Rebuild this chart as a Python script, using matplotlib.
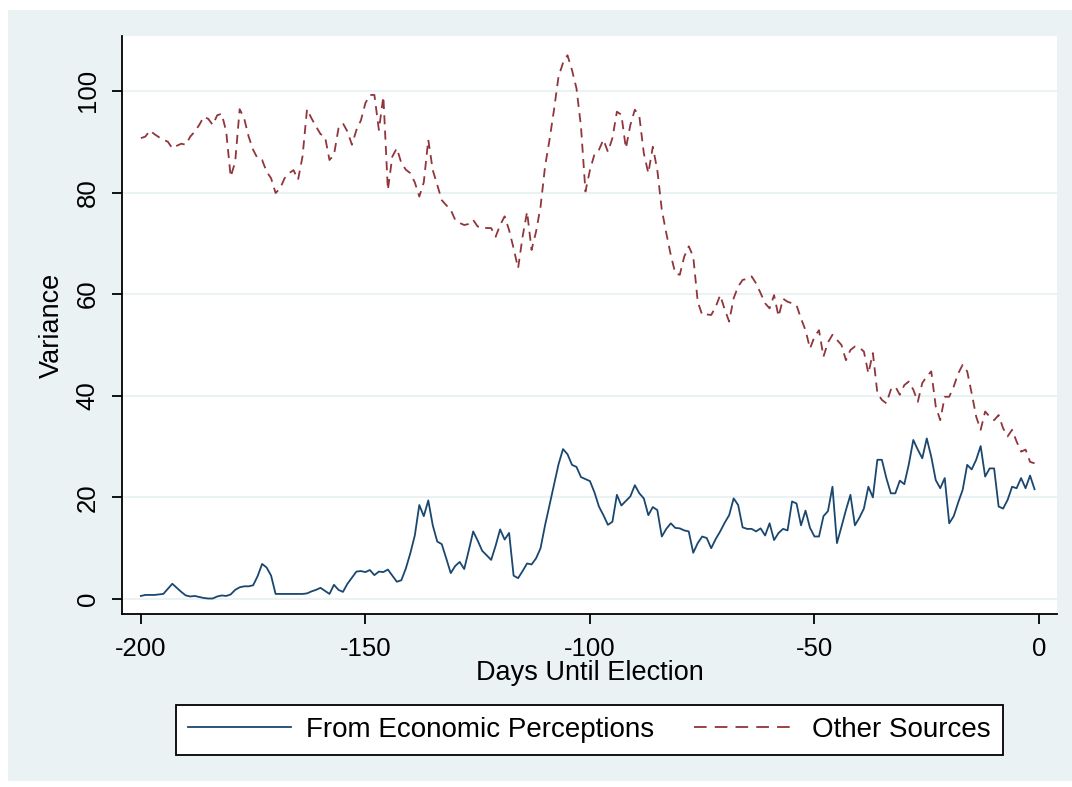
import matplotlib
matplotlib.use("Agg")
import matplotlib.pyplot as plt
from matplotlib.patches import Rectangle
from matplotlib.lines import Line2D

# Days until the election (one observation per day)
days = list(range(-200, 0))

# Variance attributable to economic perceptions
econ_variance = [
    0.6, 0.8, 0.8, 0.8, 0.9, 1.0, 2.0, 3.0, 2.2, 1.4,
    0.7, 0.5, 0.6, 0.4, 0.2, 0.1, 0.1, 0.5, 0.7, 0.6,
    0.9, 1.8, 2.3, 2.5, 2.5, 2.7, 4.5, 6.9, 6.2, 4.6,
    1.0, 1.0, 1.0, 1.0, 1.0, 1.0, 1.0, 1.1, 1.5, 1.8,
    2.2, 1.6, 1.0, 2.8, 1.8, 1.4, 3.0, 4.2, 5.4, 5.5,
    5.3, 5.7, 4.7, 5.4, 5.3, 5.8, 4.6, 3.4, 3.7, 6.0,
    9.0, 12.5, 18.5, 16.3, 19.4, 14.5, 11.3, 10.8, 8.0, 5.1,
    6.5, 7.3, 5.9, 9.5, 13.3, 11.5, 9.5, 8.6, 7.7, 10.5,
    13.7, 11.7, 13.0, 4.6, 4.1, 5.5, 7.0, 6.8, 8.0, 10.0,
    14.5, 18.5, 22.4, 26.5, 29.5, 28.5, 26.4, 26.0, 24.0, 23.6,
    23.2, 21.0, 18.2, 16.5, 14.6, 15.2, 20.5, 18.4, 19.3, 20.2,
    22.4, 20.8, 19.8, 16.5, 18.1, 17.5, 12.3, 13.8, 14.9, 14.0,
    13.9, 13.5, 13.3, 9.1, 11.0, 12.3, 12.0, 10.0, 11.8, 13.3,
    15.0, 16.5, 19.8, 18.5, 14.1, 13.8, 13.8, 13.3, 13.9, 12.5,
    14.9, 11.6, 13.0, 13.8, 13.5, 19.2, 18.8, 14.5, 17.4, 14.0,
    12.3, 12.3, 16.3, 17.3, 22.1, 11.0, 14.2, 17.5, 20.5, 14.5,
    16.0, 17.8, 22.1, 20.0, 27.4, 27.4, 23.8, 20.8, 20.8, 23.3,
    22.6, 26.5, 31.3, 29.4, 27.7, 31.6, 28.0, 23.4, 21.8, 23.8,
    14.9, 16.3, 19.0, 21.5, 26.4, 25.5, 27.4, 30.1, 24.1, 25.7,
    25.7, 18.2, 17.8, 19.5, 22.1, 21.8, 23.8, 21.8, 24.3, 21.6,
]

# Variance from all other sources
other_variance = [
    90.7, 91.0, 92.2, 91.5, 90.9, 90.4, 90.0, 88.7, 89.2, 89.6,
    89.4, 91.0, 92.0, 93.3, 94.9, 94.5, 93.3, 95.2, 95.5, 92.0,
    83.1, 86.0, 96.4, 94.6, 91.0, 88.4, 86.7, 86.4, 84.1, 82.8,
    79.9, 80.8, 82.8, 83.8, 84.4, 82.5, 87.1, 96.4, 94.6, 93.0,
    91.5, 91.0, 86.4, 87.4, 92.6, 93.6, 92.0, 89.4, 92.3, 94.2,
    97.6, 99.2, 99.2, 92.3, 98.9, 80.5, 87.1, 88.7, 85.8, 84.5,
    83.8, 82.0, 79.2, 82.0, 90.4, 84.4, 81.5, 78.5, 77.5, 76.6,
    74.6, 74.0, 73.6, 73.8, 74.6, 73.3, 73.2, 73.0, 73.0, 71.3,
    73.6, 75.3, 72.6, 69.0, 65.1, 71.3, 76.2, 68.7, 72.3, 77.2,
    85.1, 90.4, 96.3, 102.8, 105.5, 107.0, 104.1, 100.5, 93.0, 80.2,
    84.4, 87.5, 88.4, 90.4, 88.0, 90.7, 95.9, 95.3, 88.7, 93.3,
    96.3, 95.0, 87.7, 83.8, 89.0, 84.4, 76.6, 72.0, 67.7, 64.1,
    63.8, 67.4, 69.4, 67.4, 58.5, 55.9, 56.0, 55.9, 57.5, 59.8,
    57.0, 54.6, 59.2, 61.5, 62.8, 63.0, 63.5, 62.1, 60.2, 58.2,
    57.2, 59.8, 55.6, 59.1, 58.5, 58.2, 57.8, 55.2, 52.9, 49.3,
    51.6, 52.9, 47.7, 50.5, 52.0, 51.0, 50.0, 47.0, 49.0, 49.7,
    49.5, 48.7, 44.4, 48.4, 40.5, 39.2, 38.5, 41.2, 41.8, 40.2,
    42.1, 42.8, 41.2, 38.8, 42.5, 43.8, 44.8, 37.9, 35.2, 39.8,
    39.8, 41.8, 44.4, 46.1, 44.8, 40.5, 35.9, 33.3, 36.9, 35.9,
    35.2, 36.2, 33.6, 32.0, 33.3, 31.0, 29.0, 29.4, 27.0, 26.7,
]

x_ticks = [-200, -150, -100, -50, 0]
y_ticks = [0, 20, 40, 60, 80, 100]
series_labels = ["From Economic Perceptions", "Other Sources"]

BG = "#eaf2f3"
NAVY = "#1a476f"
MAROON = "#90353b"
LINE_DASH = (0, (5, 3.5))
LEGEND_DASH = (0, (7, 4.5))

plt.rcParams["font.family"] = ["Liberation Sans", "DejaVu Sans"]

W, H = 1072, 787
fig = plt.figure(figsize=(W / 100, H / 100), dpi=100, facecolor="white")

# light graph region behind the plot
fig.patches.append(Rectangle((8 / W, 1 - 781 / H), (W - 8) / W, (781 - 10) / H,
                             transform=fig.transFigure, facecolor=BG,
                             edgecolor="none", zorder=-10))

ax = fig.add_axes([122 / W, 1 - 614 / H, (1057 - 122) / W, (614 - 36) / H])
ax.set_facecolor("white")

ax.plot(days, econ_variance, color=NAVY, lw=1.3)
ax.plot(days, other_variance, color=MAROON, lw=1.3, linestyle=LINE_DASH)

ax.set_xlim(-204.2, 4.0)
ax.set_ylim(-2.95, 110.8)
ax.set_xticks(x_ticks)
ax.set_yticks(y_ticks)
ax.set_xticklabels([str(t) for t in x_ticks])
ax.set_yticklabels([str(t) for t in y_ticks], rotation=90, va="center")

ax.grid(axis="y", color=BG, lw=1.5)
ax.set_axisbelow(True)

for side in ("top", "right"):
    ax.spines[side].set_visible(False)
for side in ("left", "bottom"):
    ax.spines[side].set_color("black")
    ax.spines[side].set_linewidth(1.3)

ax.tick_params(axis="both", direction="out", length=7, width=1.3,
               colors="black", labelsize=18.5)
ax.tick_params(axis="x", pad=9.5)
ax.tick_params(axis="y", pad=9)

ax.set_xlabel("Days Until Election", fontsize=19.5)
ax.xaxis.set_label_coords(0.5, -0.08)
ax.set_ylabel("Variance", fontsize=19.5)
ax.yaxis.set_label_coords(-0.061, 0.5)

handles = [Line2D([], [], color=NAVY, lw=1.3),
           Line2D([], [], color=MAROON, lw=1.3, linestyle=LEGEND_DASH)]
leg = fig.legend(handles, series_labels, loc="center",
                 bbox_to_anchor=(589.5 / W, 1 - 730 / H),
                 ncol=2, fontsize=20, frameon=True, fancybox=False,
                 handlelength=3.7, handletextpad=0.55, columnspacing=1.45,
                 borderpad=0.42)
frame = leg.get_frame()
frame.set_edgecolor("black")
frame.set_linewidth(1.3)
frame.set_facecolor("white")
frame.set_alpha(1.0)

fig.savefig("out.png", dpi=100, facecolor=fig.get_facecolor())
